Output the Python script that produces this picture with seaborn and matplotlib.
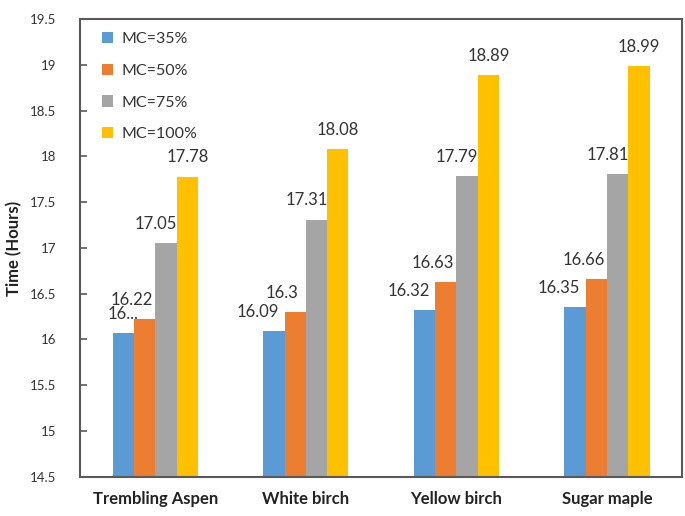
import matplotlib
matplotlib.use("Agg")
import matplotlib.pyplot as plt
import pandas as pd
import seaborn as sns

species = ["Trembling Aspen", "White birch", "Yellow birch", "Sugar maple"]
moisture = ["MC=35%", "MC=50%", "MC=75%", "MC=100%"]
mc35 = [16.07, 16.09, 16.32, 16.35]
mc50 = [16.22, 16.30, 16.63, 16.66]
mc75 = [17.05, 17.31, 17.79, 17.81]
mc100 = [17.78, 18.08, 18.89, 18.99]
# data labels as shown on the chart (the first one is truncated in the original)
label_text = {("Trembling Aspen", "MC=35%"): "16..."}

colors = ["#5B9BD5", "#ED7D31", "#A5A5A5", "#FFC000"]
# horizontal nudge (px) of the data labels per series, as placed in the original
label_dx = [-16, -13, -10, 0]
label_dx_override = {("Trembling Aspen", "MC=35%"): 0}

df = pd.DataFrame({
    "species": species * 4,
    "mc": [m for m in moisture for _ in species],
    "hours": mc35 + mc50 + mc75 + mc100,
})

sns.set_theme(style="white")
plt.rcParams["font.family"] = ["Lato", "DejaVu Sans"]

fig = plt.figure(figsize=(6.85, 5.16), dpi=100)
ax = fig.add_axes([0.117, 0.076, 0.879, 0.887])

sns.barplot(data=df, x="species", y="hours", hue="mc", order=species,
            hue_order=moisture, palette=colors, width=0.565, gap=0,
            saturation=1, ax=ax, linewidth=0)

ax.set_ylim(14.5, 19.5)
ax.set_yticks([14.5 + 0.5 * i for i in range(11)])
ax.set_yticklabels([f"{14.5 + 0.5 * i:g}" for i in range(11)], fontsize=9.5,
                   color="#333333")
ax.tick_params(axis="y", direction="in", length=5, width=1.2, color="#595959",
               left=True, pad=17)
ax.tick_params(axis="x", bottom=False, pad=4.5)
for lbl in ax.get_xticklabels():
    lbl.set_fontweight("bold")
    lbl.set_fontsize(12)
    lbl.set_color("#222222")
ax.set_xlabel("")
ax.set_ylabel("Time (Hours)", fontsize=12, fontweight="bold", color="#222222",
              labelpad=6)

for s in ax.spines.values():
    s.set_visible(True)
    s.set_color("#595959")
    s.set_linewidth(1.5)

for cont, mc, dx in zip(ax.containers, moisture, label_dx):
    for bar, sp in zip(cont, species):
        v = bar.get_height()
        txt = label_text.get((sp, mc), f"{v:g}")
        shift = label_dx_override.get((sp, mc), dx)
        ax.annotate(txt, (bar.get_x() + bar.get_width() / 2, v),
                    xytext=(shift * 0.72, 8), textcoords="offset points",
                    ha="center", va="bottom", fontsize=12, color="#333333")

leg = ax.legend(loc="upper left", bbox_to_anchor=(0.015, 1.0), frameon=False,
                fontsize=11.5, handlelength=0.7, handleheight=0.7,
                handletextpad=0.5, labelspacing=1.1, borderpad=0.5,
                borderaxespad=0.3)
for t in leg.get_texts():
    t.set_color("#333333")

fig.savefig("out.png", dpi=100)
